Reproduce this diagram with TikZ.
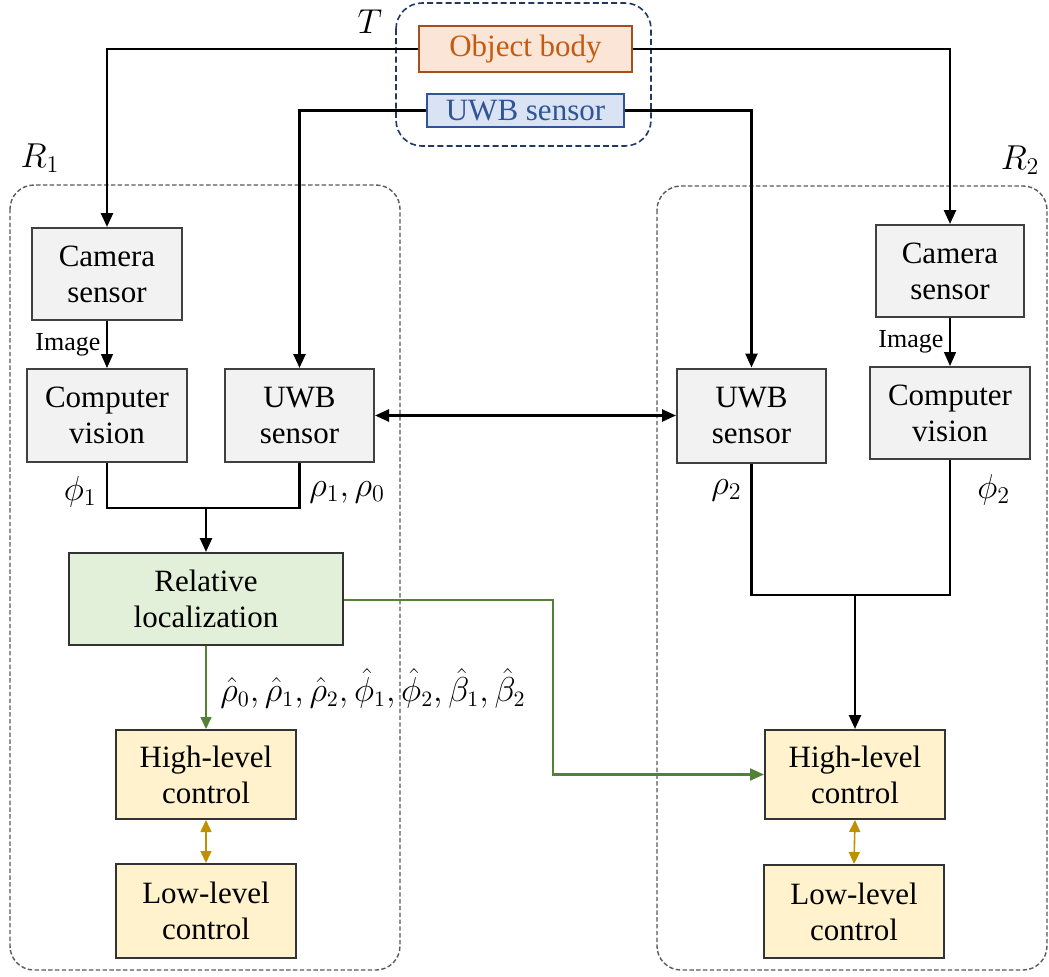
\documentclass[tikz,border=0pt]{standalone}
\usepackage{fontspec}
\setmainfont{Liberation Serif}
\usetikzlibrary{arrows.meta}

\definecolor{boxgray}{HTML}{F2F2F2}
\definecolor{edgegray}{HTML}{404040}
\definecolor{locgreen}{HTML}{E2F0D9}
\definecolor{linegreen}{HTML}{548235}
\definecolor{ctrlyellow}{HTML}{FFF2CC}
\definecolor{ctrlgold}{HTML}{BF9000}
\definecolor{objfill}{HTML}{FBE5D6}
\definecolor{objedge}{HTML}{A5501C}
\definecolor{objtext}{HTML}{C55A11}
\definecolor{uwbfill}{HTML}{DAE3F3}
\definecolor{uwbblue}{HTML}{2F5597}
\definecolor{navy}{HTML}{1F3864}
\definecolor{framegray}{HTML}{595959}

\tikzset{
  blk/.style={draw=edgegray, line width=1pt, inner sep=0pt, align=center,
    font=\fontsize{15.5}{18}\selectfont},
  graybox/.style={blk, fill=boxgray},
  greenbox/.style={blk, fill=locgreen, draw=black!80},
  yellowbox/.style={blk, fill=ctrlyellow, draw=black!80},
  frame/.style={draw=framegray, line width=0.7pt, dash pattern=on 2.2pt off 1.2pt, rounded corners=12pt},
  tframe/.style={draw=navy, line width=0.8pt, dash pattern=on 3pt off 1.6pt, rounded corners=13pt},
  link/.style={line width=1.25pt, black},
  thinlink/.style={line width=0.65pt, black},
  tip/.style={-{Triangle[length=7pt, width=6pt]}},
  dtip/.style={{Triangle[length=7pt, width=6pt]}-{Triangle[length=7pt, width=6pt]}},
  goldlink/.style={line width=0.8pt, ctrlgold, {Triangle[length=6pt, width=5.5pt]}-{Triangle[length=6pt, width=5.5pt]}},
  mathlbl/.style={inner sep=0pt, font=\fontsize{17}{20}\selectfont},
}

\begin{document}
\begin{tikzpicture}[x=0.5pt, y=-0.5pt]
\useasboundingbox (0,0) rectangle (1049,976);

% group frames
\draw[tframe] (396,3) rectangle (651,146);
\draw[frame] (10,185) rectangle (400,970);
\draw[frame] (657,186) rectangle (1047,970);

\node[mathlbl] (tlbl) at (370,22) {$T$};
\node[mathlbl] (r1lbl) at (40,158) {$R_1$};
\node[mathlbl] (r2lbl) at (1020,160) {$R_2$};

% target
\node[blk, fill=objfill, draw=objedge, text=objtext, minimum width=106.5pt, minimum height=23pt] (obj) at (525.5,49) {Object body};
\node[blk, fill=uwbfill, draw=uwbblue, text=uwbblue, minimum width=98.5pt, minimum height=16.5pt] (uwbt) at (525.5,110.5) {UWB sensor};

% robot 1
\node[graybox, minimum width=75pt, minimum height=46pt] (cam1) at (107,274) {Camera\\sensor};
\node[graybox, minimum width=80pt, minimum height=46.5pt] (cv1) at (107,415.5) {Computer\\vision};
\node[graybox, minimum width=74.5pt, minimum height=46.5pt] (uwb1) at (299.5,415.5) {UWB\\sensor};
\node[greenbox, minimum width=137pt, minimum height=46pt] (rel) at (206,599) {Relative\\localization};
\node[yellowbox, minimum width=90pt, minimum height=44.5pt] (high1) at (206,774.5) {High-level\\control};
\node[yellowbox, minimum width=90pt, minimum height=47pt] (low1) at (206,911) {Low-level\\control};

% robot 2
\node[graybox, minimum width=74pt, minimum height=46pt] (cam2) at (950,271) {Camera\\sensor};
\node[graybox, minimum width=80pt, minimum height=46pt] (cv2) at (950,413) {Computer\\vision};
\node[graybox, minimum width=74.5pt, minimum height=47pt] (uwb2) at (751.5,415.5) {UWB\\sensor};
\node[yellowbox, minimum width=90pt, minimum height=44.5pt] (high2) at (855,774.5) {High-level\\control};
\node[yellowbox, minimum width=90pt, minimum height=46.5pt] (low2) at (854,911.5) {Low-level\\control};

% target to sensors
\draw[link, tip] (obj.west) -| (cam1.north);
\draw[link, tip] (obj.east) -| (cam2.north);
\draw[link, tip] (uwbt.west) -| (uwb1.north);
\draw[link, tip] (uwbt.east) -| (uwb2.north);

% image links
\draw[thinlink, tip] (cam1.south) -- node[left, inner sep=3pt, font=\fontsize{13}{15}\selectfont] (img1) {Image} (cv1.north);
\draw[thinlink, tip] (cam2.south) -- node[left, inner sep=3pt, font=\fontsize{13}{15}\selectfont] (img2) {Image} (cv2.north);

% inter-robot ranging
\draw[link, dtip] (uwb1.east) -- (uwb2.west);

% robot 1 measurements
\coordinate (j1) at (206,508);
\draw[link] (cv1.south) |- (j1) -| (uwb1.south);
\draw[link, tip] (j1) -- (rel.north);
\node[mathlbl, anchor=east] (phi1) at (97,492) {$\phi_1$};
\node[mathlbl, anchor=west] (rho1) at (309,492) {$\rho_1,\rho_0$};

% robot 2 measurements
\coordinate (j2) at (855,595);
\draw[link] (uwb2.south) |- (j2) -| (cv2.south);
\draw[link, tip] (j2) -- (high2.north);
\node[mathlbl, anchor=east] (rho2) at (742,490) {$\rho_2$};
\node[mathlbl, anchor=west] (phi2) at (977,490) {$\phi_2$};

% estimates
\draw[line width=0.8pt, linegreen, -{Triangle[length=6pt, width=5.5pt]}] (rel.south) -- (high1.north);
\node[inner sep=0pt, anchor=west, font=\fontsize{16}{19}\selectfont] (est) at (220,688) {$\hat{\rho}_0,\hat{\rho}_1,\hat{\rho}_2,\hat{\phi}_1,\hat{\phi}_2,\hat{\beta}_1,\hat{\beta}_2$};
\coordinate (g1) at (553,600);
\draw[line width=1.1pt, linegreen, -{Triangle[length=7pt, width=6pt]}] (rel.east |- g1) -- (g1) |- (high2.west);

% control loops
\draw[goldlink] (high1.south) -- (low1.north);
\draw[goldlink] (high2.south) -- (low2.north);
\end{tikzpicture}
\end{document}
